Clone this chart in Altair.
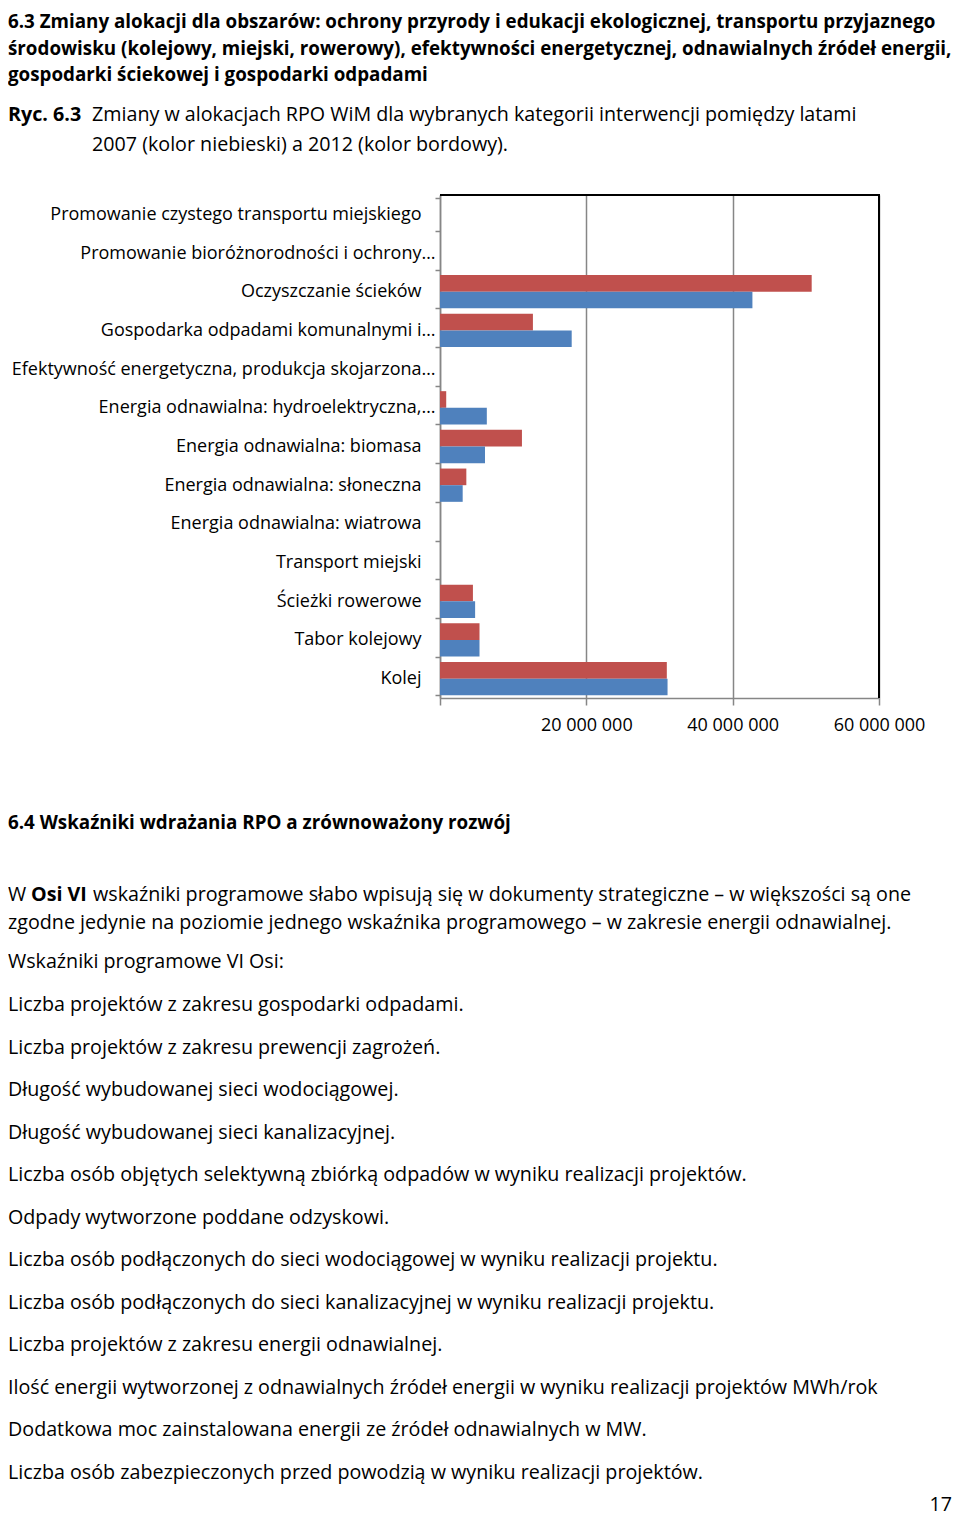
import altair as alt
import pandas as pd

# ---------------- data ----------------
categories = [
    "Promowanie czystego transportu miejskiego",
    "Promowanie bioróżnorodności i ochrony…",
    "Oczyszczanie ścieków",
    "Gospodarka odpadami komunalnymi i…",
    "Efektywność energetyczna, produkcja skojarzona…",
    "Energia odnawialna: hydroelektryczna,…",
    "Energia odnawialna: biomasa",
    "Energia odnawialna: słoneczna",
    "Energia odnawialna: wiatrowa",
    "Transport miejski",
    "Ścieżki rowerowe",
    "Tabor kolejowy",
    "Kolej",
]
alloc_2012 = [0, 0, 50_800_000, 12_700_000, 0, 850_000, 11_200_000, 3_600_000, 0, 0, 4_500_000, 5_400_000, 31_000_000]
alloc_2007 = [0, 0, 42_700_000, 18_000_000, 0, 6_400_000, 6_150_000, 3_100_000, 0, 0, 4_800_000, 5_400_000, 31_100_000]
series = ["2012", "2007"]
series_colors = ["#C0504D", "#4F81BD"]
x_ticks = [0, 20_000_000, 40_000_000, 60_000_000]

heading_lines = [
    "6.3 Zmiany alokacji dla obszarów: ochrony przyrody i edukacji ekologicznej, transportu przyjaznego",
    "środowisku (kolejowy, miejski, rowerowy), efektywności energetycznej, odnawialnych źródeł energii,",
    "gospodarki ściekowej i gospodarki odpadami",
]
caption_label = "Ryc. 6.3"
caption_lines = [
    "Zmiany w alokacjach RPO WiM dla wybranych kategorii interwencji pomiędzy latami",
    "2007 (kolor niebieski) a 2012 (kolor bordowy).",
]
section_heading = "6.4 Wskaźniki wdrażania RPO a zrównoważony rozwój"
para_parts = ["W", "Osi VI", "wskaźniki programowe słabo wpisują się w dokumenty strategiczne – w większości są one"]
body_lines = [
    "zgodne jedynie na poziomie jednego wskaźnika programowego – w zakresie energii odnawialnej.",
    "Wskaźniki programowe VI Osi:",
    " Liczba projektów z zakresu gospodarki odpadami.",
    "Liczba projektów z zakresu prewencji zagrożeń.",
    "Długość wybudowanej sieci wodociągowej.",
    "Długość wybudowanej sieci kanalizacyjnej.",
    "Liczba osób objętych selektywną zbiórką odpadów w wyniku realizacji projektów.",
    "Odpady wytworzone poddane odzyskowi.",
    "Liczba osób podłączonych do sieci wodociągowej w wyniku realizacji projektu.",
    "Liczba osób podłączonych do sieci kanalizacyjnej w wyniku realizacji projektu.",
    "Liczba projektów z zakresu energii odnawialnej.",
    "Ilość energii wytworzonej z odnawialnych źródeł energii w wyniku realizacji projektów MWh/rok",
    "Dodatkowa moc zainstalowana energii ze źródeł odnawialnych w MW.",
    "Liczba osób zabezpieczonych przed powodzią w wyniku realizacji projektów.",
]
page_number = "17"

# ---------------- layout (page coordinates; svg starts at page 8,8) ----------------
FONT = "Open Sans"
PX0, PY0 = 440, 195          # plot area origin on the page
W, H = 439, 503              # plot area size
SVG_W, SVG_H = 944, 1512
PAD = {"left": PX0 - 8, "top": PY0 - 8,
       "right": SVG_W - (PX0 - 8) - W, "bottom": SVG_H - (PY0 - 8) - H}
LEFT = 8
heading_base = [28, 55, 81]
caption_base = [121, 151]
caption_x = 92
section_base = 829
para_base = 901
para_x = [LEFT, 31, 93]
body_base = [929, 968, 1011, 1054, 1096, 1139, 1181, 1224, 1266, 1309, 1351, 1394, 1436, 1479]
BODY_SIZE = 19.7
HEAD_SIZE = 18.8
LABEL_SIZE = 18
page_num_pos = (952, 1511)

rows = []
for s, vals in zip(series, [alloc_2012, alloc_2007]):
    for c, v in zip(categories, vals):
        rows.append({"category": c, "series": s, "value": v})
df = pd.DataFrame(rows)

label_expr = "datum.value == 0 ? '' : replace(format(datum.value, ',d'), regexp(',', 'g'), ' ')"

bars = alt.Chart(df).mark_bar().encode(
    x=alt.X(
        "value:Q",
        scale=alt.Scale(domain=[0, 60_000_000], nice=False),
        axis=alt.Axis(
            values=x_ticks, labelExpr=label_expr, title=None, grid=True,
            gridColor="#868686", gridWidth=1.5, domainColor="#868686", domainWidth=1.5,
            tickColor="#868686", tickWidth=1.5, tickSize=7, labelPadding=11,
            labelFlush=False, labelOverlap=False,
            labelFontSize=LABEL_SIZE, labelColor="black", labelFont=FONT,
        ),
    ),
    y=alt.Y(
        "category:N", sort=categories,
        scale=alt.Scale(paddingInner=0.14, paddingOuter=0.07),
        axis=alt.Axis(
            title=None, tickBand="extent", labelLimit=460,
            labelPadding={"condition": {"test": "indexof(datum.label, '…') >= 0", "value": 0}, "value": 14},
            tickSize=5, tickColor="#868686", tickWidth=1.5,
            domainColor="#868686", domainWidth=1.5,
            labelFontSize=LABEL_SIZE, labelColor="black", labelFont=FONT,
        ),
    ),
    yOffset=alt.YOffset("series:N", sort=series),
    color=alt.Color("series:N", scale=alt.Scale(domain=series, range=series_colors), legend=None),
)

one = pd.DataFrame({"k": [0]})
frame_top = alt.Chart(one).mark_rule(color="black", strokeWidth=2).encode(
    x=alt.value(0), x2=alt.value(W + 1), y=alt.value(0))
frame_right = alt.Chart(one).mark_rule(color="black", strokeWidth=2).encode(
    x=alt.value(W), y=alt.value(0), y2=alt.value(H))

layers = [bars, frame_top, frame_right]


def txt(s, x, y, bold=False, size=BODY_SIZE, align="left"):
    return alt.Chart(one).mark_text(
        align=align, baseline="alphabetic", font=FONT, fontSize=size,
        fontWeight="bold" if bold else "normal", color="black",
    ).encode(x=alt.value(x - PX0), y=alt.value(y - PY0), text=alt.value(s))


for s, b in zip(heading_lines, heading_base):
    layers.append(txt(s, LEFT, b, bold=True, size=HEAD_SIZE))
layers.append(txt(caption_label, LEFT, caption_base[0], bold=True))
for s, b in zip(caption_lines, caption_base):
    layers.append(txt(s, caption_x, b))
layers.append(txt(section_heading, LEFT, section_base, bold=True, size=HEAD_SIZE))
layers.append(txt(para_parts[0], para_x[0], para_base))
layers.append(txt(para_parts[1], para_x[1], para_base, bold=True))
layers.append(txt(para_parts[2], para_x[2], para_base))
for s, b in zip(body_lines, body_base):
    layers.append(txt(s, LEFT, b))
layers.append(txt(page_number, page_num_pos[0], page_num_pos[1], align="right"))

chart = alt.layer(*layers).properties(
    width=W, height=H, padding=PAD,
    autosize=alt.AutoSizeParams(type="none"),
).configure_view(stroke=None).configure(font=FONT)

chart.save("out.html", embed_options={"renderer": "svg", "actions": False})
